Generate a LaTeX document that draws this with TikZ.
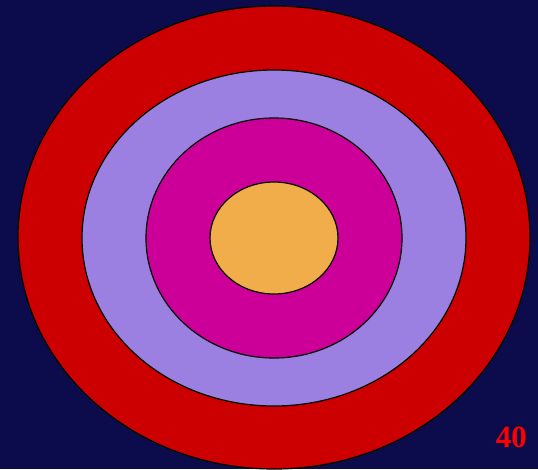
\documentclass[tikz,border=0pt]{standalone}
\usepackage{fontspec}
\setmainfont{Liberation Serif}
\definecolor{bgc}{RGB}{12,12,76}
\definecolor{ringred}{RGB}{204,0,0}
\definecolor{ringlav}{RGB}{155,128,226}
\definecolor{ringmag}{RGB}{204,0,153}
\definecolor{ringorg}{RGB}{241,173,74}
\begin{document}
\begin{tikzpicture}[x=1pt,y=-1pt,
  ring/.style={draw=black,line width=1.2pt}]
\fill[bgc] (0,0) rectangle (538,469);
\useasboundingbox (0,0) rectangle (538,469);
\path[ring,fill=ringred] (274,237.5) ellipse [x radius=256,y radius=231.5];
\path[ring,fill=ringlav] (274,238) ellipse [x radius=192,y radius=168];
\path[ring,fill=ringmag] (274,238) ellipse [x radius=128,y radius=120];
\path[ring,fill=ringorg] (274,238) ellipse [x radius=64,y radius=56];
\node[text=red,font=\fontsize{31}{36}\selectfont\bfseries,anchor=base east,inner sep=0pt] (num) at (527,447) {40};
\end{tikzpicture}
\end{document}
